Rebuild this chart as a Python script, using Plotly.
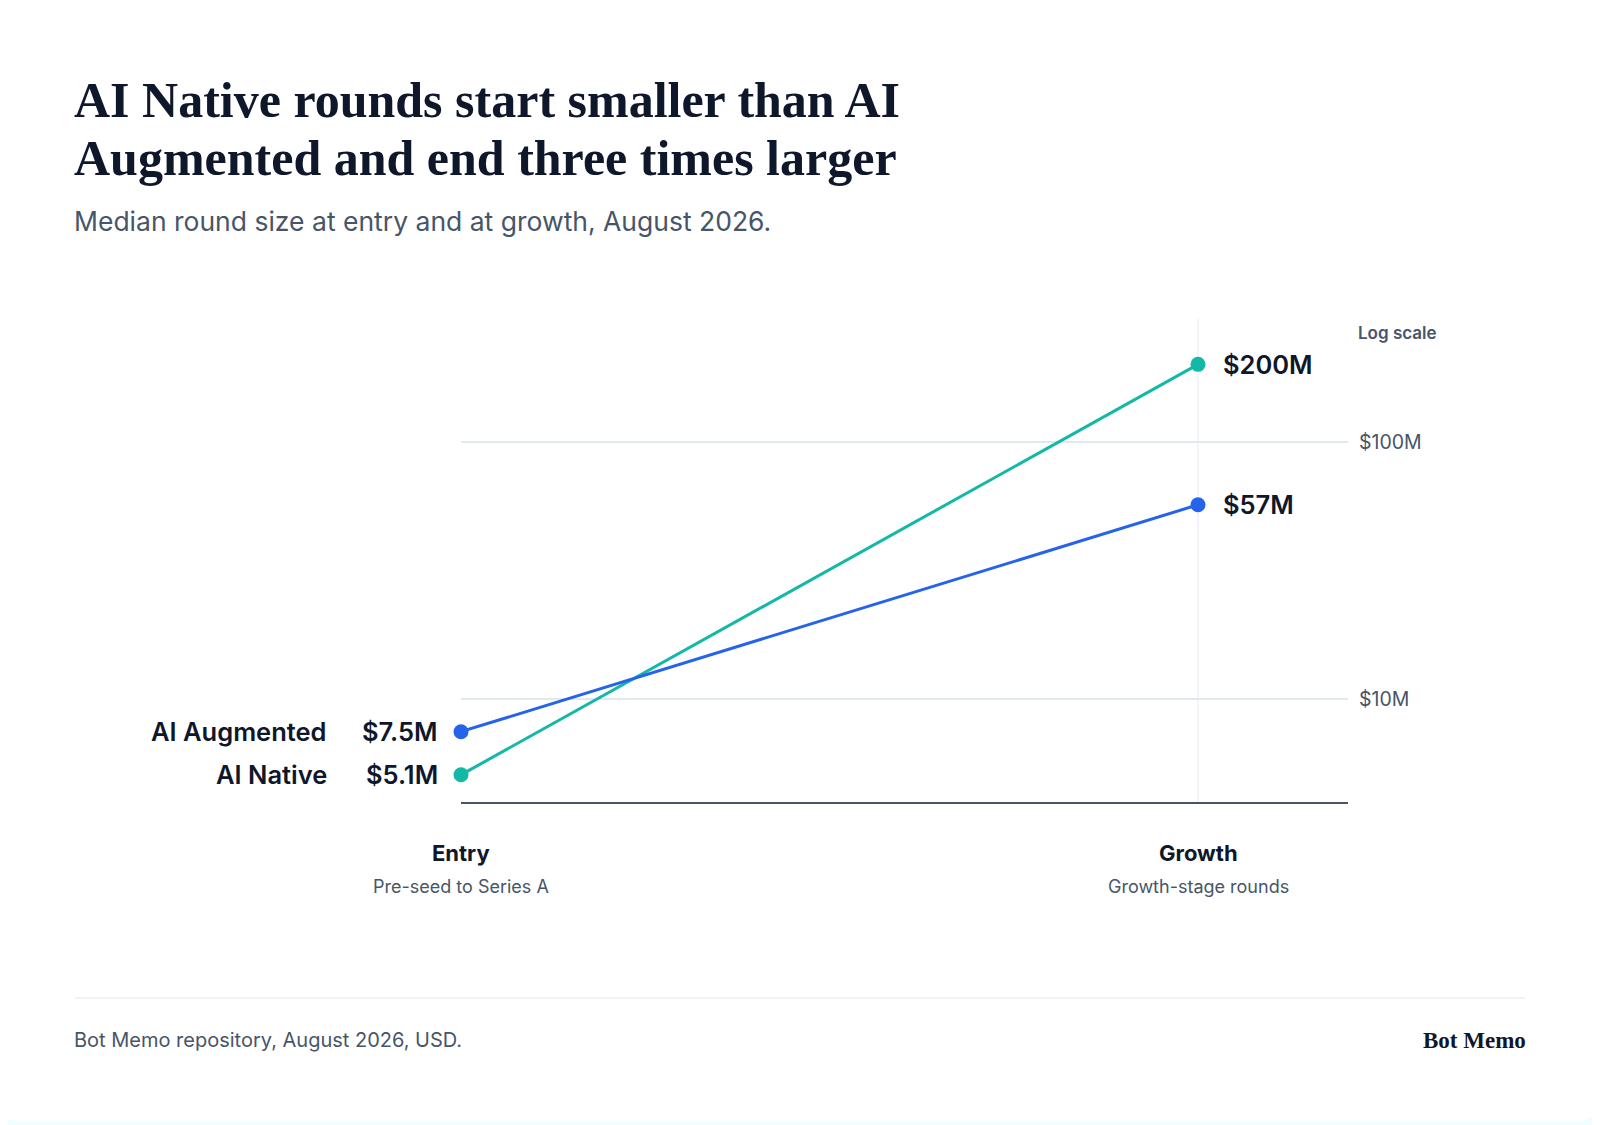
import plotly.graph_objects as go
import math

# ---------------- data ----------------
stages = ["Entry", "Growth"]
stage_subtitles = ["Pre-seed to Series A", "Growth-stage rounds"]
ai_augmented = [7.5, 57]
ai_native = [5.1, 200]
aug_labels = ["$7.5M", "$57M"]
nat_labels = ["$5.1M", "$200M"]
tick_vals = [10, 100]
tick_text = ["$10M", "$100M"]

title_lines = ["AI Native rounds start smaller than AI",
               "Augmented and end three times larger"]
subtitle = "Median round size at entry and at growth, August 2026."
source = "Bot Memo repository, August 2026, USD."
brand = "Bot Memo"

# ---------------- style ----------------
OFF = 8                      # page body margin
W, H = 1600 - OFF, 1125 - OFF
# plot area in page pixels
PL, PR, PT, PB = 461, 1348, 319, 802
L = PL - OFF
T = PT - OFF
R = W - (PR - OFF)
B = H - (PB - OFF)
PW, PH = W - L - R, H - T - B
BLUE = "#2563eb"
TEAL = "#14b8a6"
INK = "#0f172a"
SLATE = "#475569"
SANS = "Inter"
SERIF = "Liberation Serif"

def px(x):  # page x -> paper
    return (x - OFF - L) / PW

def py(y):  # page y -> paper
    return (H - B - (y - OFF)) / PH

xpos = list(range(len(stages)))

fig = go.Figure()
fig.add_trace(go.Scatter(
    x=xpos, y=ai_native, mode="lines+markers", name="AI Native",
    line=dict(color=TEAL, width=3), marker=dict(size=15, color=TEAL),
    cliponaxis=False, hoverinfo="skip"))
fig.add_trace(go.Scatter(
    x=xpos, y=ai_augmented, mode="lines+markers", name="AI Augmented",
    line=dict(color=BLUE, width=3), marker=dict(size=15, color=BLUE),
    cliponaxis=False, hoverinfo="skip"))

LAB = dict(family=SANS, size=25.5, color=INK, weight=600)
ann = []
for vals, labs in ((ai_augmented, aug_labels), (ai_native, nat_labels)):
    ann.append(dict(x=0, y=math.log10(vals[0]), xref="x", yref="y", text=labs[0],
                    xanchor="right", yanchor="middle", xshift=-21, showarrow=False, font=LAB))
    ann.append(dict(x=1, y=math.log10(vals[1]), xref="x", yref="y", text=labs[1],
                    xanchor="left", yanchor="middle", xshift=23, showarrow=False, font=LAB))
for name, vals in (("AI Augmented", ai_augmented), ("AI Native", ai_native)):
    ann.append(dict(x=0, y=math.log10(vals[0]), xref="x", yref="y", text=name,
                    xanchor="right", yanchor="middle", xshift=-132, showarrow=False, font=LAB))
for i, (s, sub) in enumerate(zip(stages, stage_subtitles)):
    ann.append(dict(x=i, y=py(853), xref="x", yref="paper", text=s,
                    xanchor="center", yanchor="middle", showarrow=False,
                    font=dict(family=SANS, size=22, color=INK, weight=700)))
    ann.append(dict(x=i, y=py(886), xref="x", yref="paper", text=sub,
                    xanchor="center", yanchor="middle", showarrow=False,
                    font=dict(family=SANS, size=18, color=SLATE)))
ann.append(dict(x=px(1356), y=py(333), xref="paper", yref="paper", text="Log scale",
                xanchor="left", yanchor="middle", showarrow=False,
                font=dict(family=SANS, size=17, color=SLATE, weight=600)))
for line, yy in zip(title_lines, (99.5, 158)):
    ann.append(dict(x=px(72), y=py(yy), xref="paper", yref="paper", text=line,
                    xanchor="left", yanchor="middle", align="left", showarrow=False,
                    font=dict(family=SERIF, size=50, color=INK, weight=700)))
ann.append(dict(x=px(72), y=py(221), xref="paper", yref="paper", text=subtitle,
                xanchor="left", yanchor="middle", showarrow=False,
                font=dict(family=SANS, size=26.5, color=SLATE)))
ann.append(dict(x=px(72), y=py(1040), xref="paper", yref="paper", text=source,
                xanchor="left", yanchor="middle", showarrow=False,
                font=dict(family=SANS, size=20, color=SLATE)))
ann.append(dict(x=px(1528), y=py(1040), xref="paper", yref="paper", text=brand,
                xanchor="right", yanchor="middle", showarrow=False,
                font=dict(family=SERIF, size=23, color=INK, weight=700)))

# card background (rounded), page coordinates
x0, y0, x1, y1, r = 0, 0, 1598, 1122, 22
def P(x, y):
    return f"{px(x):.5f},{py(y):.5f}"
card = (f"M {P(x0 + r, y0)} L {P(x1 - r, y0)} Q {P(x1, y0)} {P(x1, y0 + r)} "
        f"L {P(x1, y1 - r)} Q {P(x1, y1)} {P(x1 - r, y1)} "
        f"L {P(x0 + r, y1)} Q {P(x0, y1)} {P(x0, y1 - r)} "
        f"L {P(x0, y0 + r)} Q {P(x0, y0)} {P(x0 + r, y0)} Z")
shapes = [
    dict(type="path", path=card, xref="paper", yref="paper", layer="below",
         fillcolor="#ffffff", line=dict(width=0)),
    dict(type="line", x0=px(75), x1=px(1525), y0=py(998), y1=py(998),
         xref="paper", yref="paper", line=dict(color="#f1f5f9", width=2)),
]

fig.update_layout(
    width=W, height=H,
    margin=dict(l=L, r=R, t=T, b=B, pad=0),
    paper_bgcolor="#effefe", plot_bgcolor="rgba(0,0,0,0)",
    showlegend=False,
    annotations=ann, shapes=shapes,
    xaxis=dict(range=[0, (PR - PL) / (1198 - PL)], tickvals=xpos, showticklabels=False,
               showgrid=True, gridcolor="#f1f5f9", gridwidth=1.5, zeroline=False,
               showline=True, linecolor=SLATE, linewidth=1.5, ticks="", fixedrange=True),
    yaxis=dict(type="log", range=[math.log10(4), math.log10(300)], side="right",
               tickvals=tick_vals, ticktext=tick_text, ticks="", ticklabelstandoff=10,
               showgrid=True, gridcolor="#e2e8f0", gridwidth=1.5, zeroline=False,
               showline=False, tickfont=dict(family=SANS, size=19.5, color=SLATE),
               fixedrange=True),
)

fig.write_html("out.html", config={"displayModeBar": False})
